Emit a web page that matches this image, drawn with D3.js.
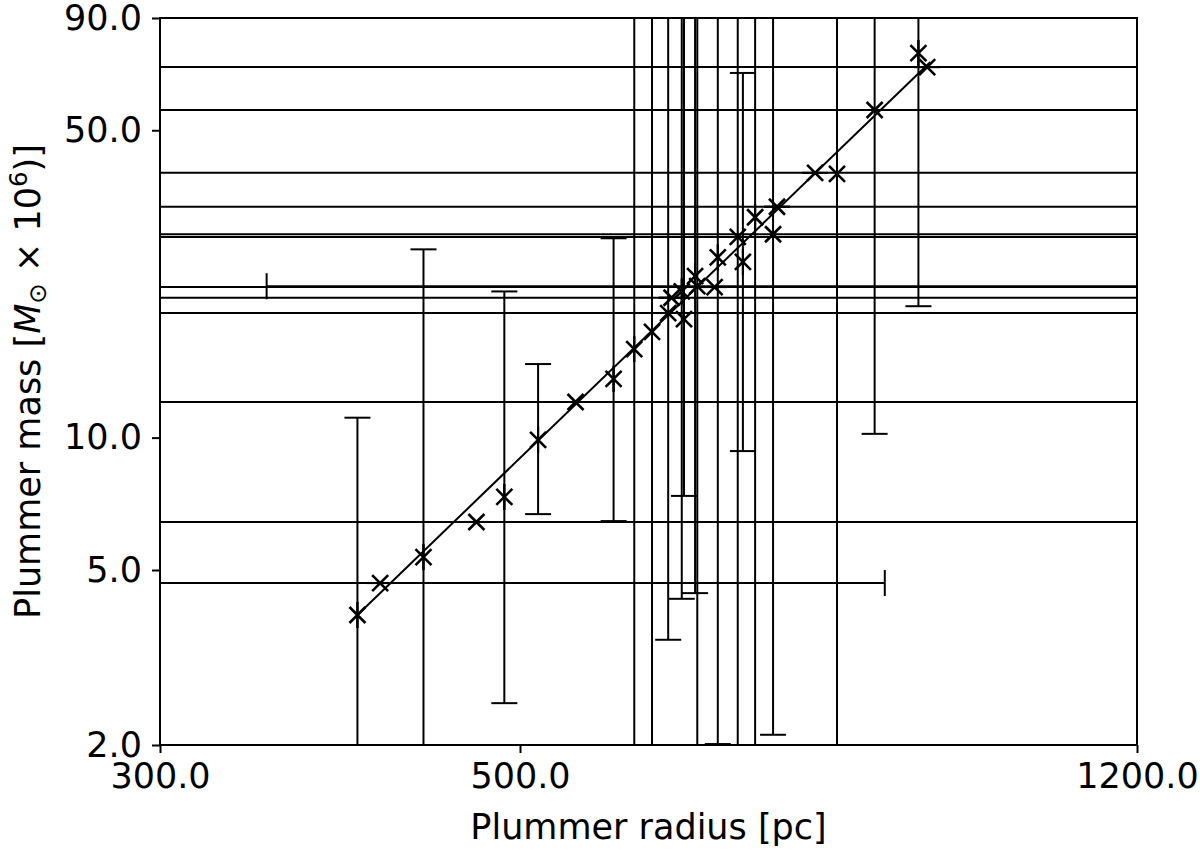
<!DOCTYPE html>
<html>
<head>
<meta charset="utf-8">
<script src="https://cdn.jsdelivr.net/npm/d3@7"></script>
<style>
  body { margin: 0; background: #fff; }
  svg { display: block; }
  text { font-family: "DejaVu Sans", sans-serif; fill: #000; }
</style>
</head>
<body>
<svg id="chart" width="1200" height="851"></svg>
<script>
// Plummer fits : radius [pc], mass [1e6 Msun], with lower / upper bounds
const radius   = [397, 410, 436, 470, 489, 513, 541, 571, 588, 603, 617, 620, 631, 629,
                  641, 643, 659, 662, 681, 686, 698, 716, 720, 760, 784, 827, 880, 891];
const mass     = [3.95, 4.67, 5.35, 6.43, 7.33, 9.88, 12.05, 13.6, 15.9, 17.4, 19.2, 20.8, 18.6, 21.5,
                  23.3, 22.1, 22.0, 25.7, 28.6, 25.1, 31.7, 29.0, 33.5, 40.0, 39.8, 55.6, 74.9, 69.6];
const radiusLo = [397, 120, 436, 120, 489, 513, 120, 571, 588, 603, 120, 120, 631, 629,
                  641, 349, 120, 662, 120, 686, 698, 120, 120, 120, 784, 120, 880, 120];
const radiusHi = [397, 839, 436, 3000, 489, 513, 3000, 571, 588, 603, 3000, 3000, 631, 629,
                  641, 3000, 3000, 662, 3000, 686, 698, 3000, 3000, 3000, 784, 3000, 880, 3000];
const massLo   = [0.5, 4.67, 0.5, 6.43, 2.49, 6.70, 12.05, 6.46, 0.5, 0.5, 3.47, 20.8, 7.37, 4.30,
                  4.43, 0.5, 22.0, 2.01, 0.5, 9.32, 0.5, 2.11, 33.5, 40.0, 0.5, 10.2, 19.9, 69.6];
const massHi   = [11.1, 4.67, 26.8, 6.43, 21.5, 14.7, 12.05, 28.4, 300, 300, 300, 20.8, 300, 300,
                  300, 300, 22.0, 300, 300, 67.5, 300, 300, 33.5, 40.0, 300, 300, 300, 69.6];

// power-law fit, drawn between its two ends
const fitRadius = [397, 895];
const fitMass   = [3.95, 71.5];

const xTicks = [300, 500, 1200];
const yTicks = [2, 5, 10, 50, 90];

const margin = {left: 160, top: 18, right: 63, bottom: 106},
      W = 1200 - margin.left - margin.right,
      H = 851 - margin.top - margin.bottom,
      CAP = 13, FS = 35, LW = 2;

const svg = d3.select("#chart");

const x = d3.scaleLog().domain([300, 1200]).range([0, W]),
      y = d3.scaleLog().domain([2, 90]).range([H, 0]);

svg.append("defs").append("clipPath").attr("id", "plotClip")
  .append("rect").attr("width", W).attr("height", H);

const g = svg.append("g").attr("transform", `translate(${margin.left},${margin.top})`);
const plot = g.append("g").attr("clip-path", "url(#plotClip)");

const pts = radius.map((r, i) => ({
  r, m: mass[i], rLo: radiusLo[i], rHi: radiusHi[i], mLo: massLo[i], mHi: massHi[i]
}));

// fit line
plot.append("path")
  .datum(fitRadius.map((r, i) => [r, fitMass[i]]))
  .attr("fill", "none")
  .attr("stroke", "#000")
  .attr("stroke-width", LW)
  .attr("d", d3.line().x(d => x(d[0])).y(d => y(d[1])));

// error bars (matplotlib style, caps drawn even for zero error)
const eb = plot.append("g").attr("stroke", "#000").attr("stroke-width", LW).attr("fill", "none");
const segs = [];
pts.forEach(d => {
  const px = x(d.r), py = y(d.m);
  segs.push([x(d.rLo), py, x(d.rHi), py]);
  segs.push([x(d.rLo), py - CAP, x(d.rLo), py + CAP]);
  segs.push([x(d.rHi), py - CAP, x(d.rHi), py + CAP]);
  segs.push([px, y(d.mLo), px, y(d.mHi)]);
  segs.push([px - CAP, y(d.mLo), px + CAP, y(d.mLo)]);
  segs.push([px - CAP, y(d.mHi), px + CAP, y(d.mHi)]);
});
eb.selectAll("line").data(segs).join("line")
  .attr("x1", s => s[0]).attr("y1", s => s[1])
  .attr("x2", s => s[2]).attr("y2", s => s[3]);

// x markers
const MK = 8;
plot.append("g").selectAll("path.mk").data(pts).join("path")
  .attr("class", "mk")
  .attr("stroke", "#000").attr("stroke-width", 2.6)
  .attr("d", d => {
    const px = x(d.r), py = y(d.m);
    return `M${px - MK},${py - MK}L${px + MK},${py + MK}M${px - MK},${py + MK}L${px + MK},${py - MK}`;
  });

// axes
const fmt = d3.format(".1f");
const xAxis = g.append("g").attr("transform", `translate(0,${H})`)
  .call(d3.axisBottom(x).tickValues(xTicks).tickFormat(fmt).tickSize(8).tickPadding(10));
const yAxis = g.append("g")
  .call(d3.axisLeft(y).tickValues(yTicks).tickFormat(fmt).tickSize(8).tickPadding(10));

[xAxis, yAxis].forEach(a => {
  a.select(".domain").remove();
  a.selectAll(".tick line").attr("stroke", "#000").attr("stroke-width", LW);
  a.selectAll(".tick text").attr("font-size", FS).attr("font-family", "DejaVu Sans").attr("fill", "#000");
});

g.append("rect")
  .attr("width", W).attr("height", H)
  .attr("fill", "none").attr("stroke", "#000").attr("stroke-width", LW);

// axis labels
g.append("text")
  .attr("x", W / 2).attr("y", H + 94)
  .attr("text-anchor", "middle")
  .attr("font-size", FS)
  .text("Plummer radius [pc]");

const yl = g.append("text")
  .attr("transform", `translate(${-120},${H / 2}) rotate(-90)`)
  .attr("text-anchor", "middle")
  .attr("font-size", FS);
yl.append("tspan").text("Plummer mass [");
yl.append("tspan").attr("font-style", "italic").text("M");
yl.append("tspan").attr("font-size", FS * 0.7).attr("dy", 6).text("\u2299");
yl.append("tspan").attr("dy", -6).text(" \u00d7 10");
yl.append("tspan").attr("font-size", FS * 0.7).attr("dy", -13).text("6");
yl.append("tspan").attr("dy", 13).text(")]");
</script>
</body>
</html>
